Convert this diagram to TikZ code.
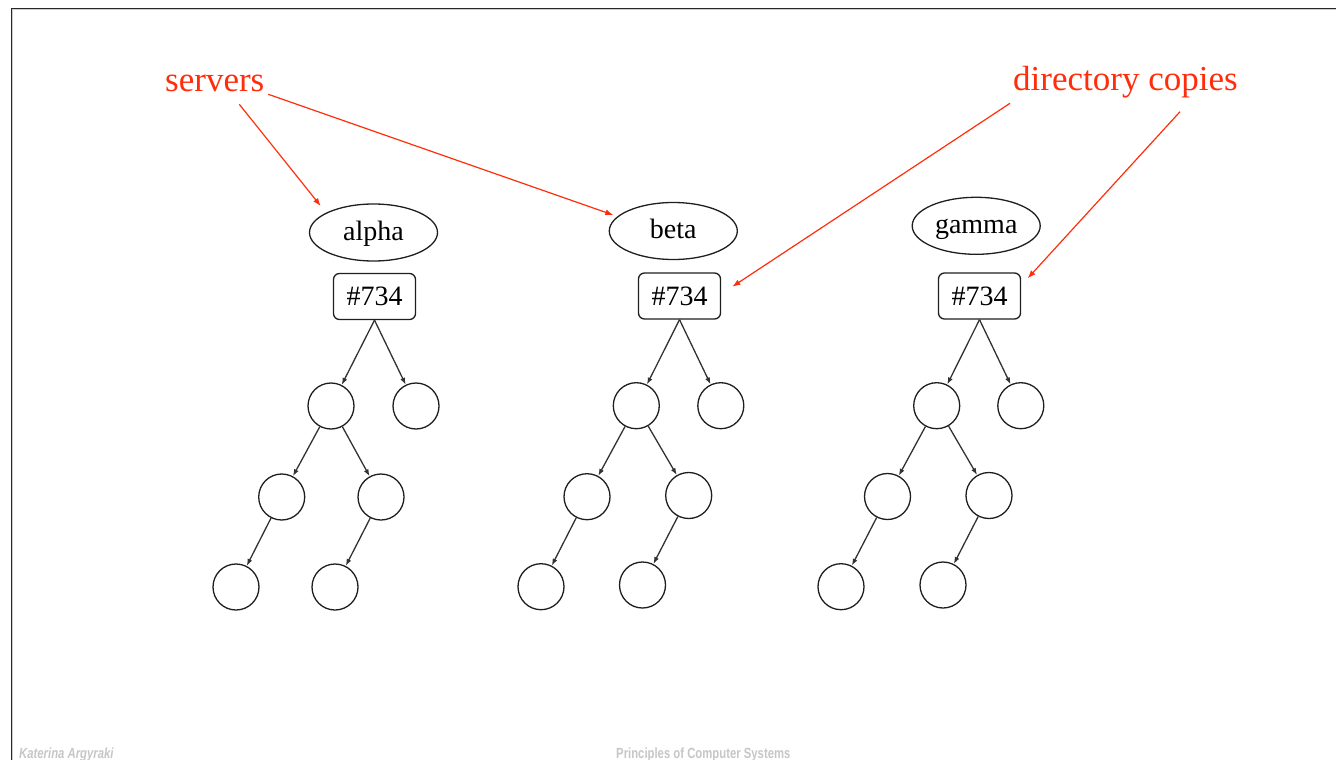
\documentclass[tikz,border=0pt]{standalone}
\usepackage{fontspec}
\usepackage{graphicx}
\setmainfont{Liberation Serif}
\newfontfamily\footfont{Liberation Sans}
\usetikzlibrary{arrows.meta,shapes.geometric}

\definecolor{annot}{RGB}{255,45,10}
\definecolor{ink}{RGB}{30,30,30}
\definecolor{edgeink}{RGB}{50,50,50}
\definecolor{footgray}{RGB}{198,198,198}
\definecolor{framedark}{RGB}{40,40,40}
\definecolor{framelight}{RGB}{205,205,205}

\begin{document}
\begin{tikzpicture}[x=1pt,y=-1pt,
  server/.style={draw=ink, line width=1.3pt, ellipse, minimum width=128pt,
    minimum height=57pt, inner sep=0pt, text height=20pt, text depth=5pt,
    font=\fontsize{28}{30}\selectfont},
  dirbox/.style={draw=ink, line width=1.3pt, rounded corners=6pt,
    minimum width=82pt, minimum height=46pt, inner sep=0pt,
    font=\fontsize{28}{30}\selectfont},
  entry/.style={draw=ink, line width=1.3pt, circle, minimum size=46pt, inner sep=0pt},
  link/.style={draw=edgeink, line width=1.3pt, -{Latex[length=7pt,width=5pt]}},
  callout/.style={draw=annot, line width=1.2pt, -{Latex[length=8pt,width=6pt]}},
  notetext/.style={text=annot, inner sep=0pt, anchor=base west,
    font=\fontsize{35}{38}\selectfont},
  foottext/.style={text=footgray, inner sep=0pt, anchor=base west,
    font=\footfont\bfseries\fontsize{14.7}{16}\selectfont}]

\useasboundingbox (0,0) rectangle (1336,760);

% slide frame
\draw[framedark, line width=1.3pt] (11.2,770) -- (11.2,8.4) -- (1345,8.4);
\draw[framelight, line width=1.2pt] (12.6,770) -- (12.6,9.8) -- (1345,9.8);

% footer
\node[foottext] (author) at (19,758.5) {\itshape\scalebox{0.77}[1]{Katerina Argyraki}};
\node[foottext] (course) at (616,758.5) {\scalebox{0.77}[1]{Principles of Computer Systems}};

% tree on alpha
\node[server] (alpha) at (373.5,232.5) {alpha};
\node[dirbox] (dA) at (374.5,296.5) {\#734};
\node[entry] (a1) at (331,406) {};
\node[entry] (a2) at (416,406) {};
\node[entry] (a3) at (281.7,497) {};
\node[entry] (a4) at (381,497) {};
\node[entry] (a5) at (236,587) {};
\node[entry] (a6) at (335,587) {};

% tree on beta
\node[server] (beta) at (673.3,231) {beta};
\node[dirbox] (dB) at (679.5,296) {\#734};
\node[entry] (b1) at (636.3,405.7) {};
\node[entry] (b2) at (720.8,405.7) {};
\node[entry] (b3) at (587,496.7) {};
\node[entry] (b4) at (688.7,495.5) {};
\node[entry] (b5) at (541,586.7) {};
\node[entry] (b6) at (642.5,585) {};

% tree on gamma
\node[server] (gamma) at (976.2,225.8) {gamma};
\node[dirbox] (dG) at (979.5,296) {\#734};
\node[entry] (g1) at (936.7,405.7) {};
\node[entry] (g2) at (1020.8,405.7) {};
\node[entry] (g3) at (887.5,496.5) {};
\node[entry] (g4) at (989,495.5) {};
\node[entry] (g5) at (841,586.7) {};
\node[entry] (g6) at (943,585) {};

% directory links
\foreach \t/\d in {a/dA, b/dB, g/dG} {
  \draw[link] (\d.south) -- (\t1);
  \draw[link] (\d.south) -- (\t2);
  \draw[link] (\t1) -- (\t3);
  \draw[link] (\t1) -- (\t4);
  \draw[link] (\t3) -- (\t5);
  \draw[link] (\t4) -- (\t6);
}

% annotations
\node[notetext] (servers) at (165,91.5) {servers};
\node[notetext] (copies) at (1013,91) {directory copies};

\coordinate (sA) at (239.3,104.3);
\coordinate (sB) at (268.3,94.3);
\coordinate (cB) at (1010,103.3);
\coordinate (cG) at (1180,111.7);
\coordinate (tA) at (320.7,206);
\coordinate (tB) at (613.3,215);
\coordinate (tdB) at (732.3,286.7);
\coordinate (tdG) at (1027.7,278.3);

\draw[callout] (sA) -- (tA);
\draw[callout] (sB) -- (tB);
\draw[callout] (cB) -- (tdB);
\draw[callout] (cG) -- (tdG);
\end{tikzpicture}
\end{document}
